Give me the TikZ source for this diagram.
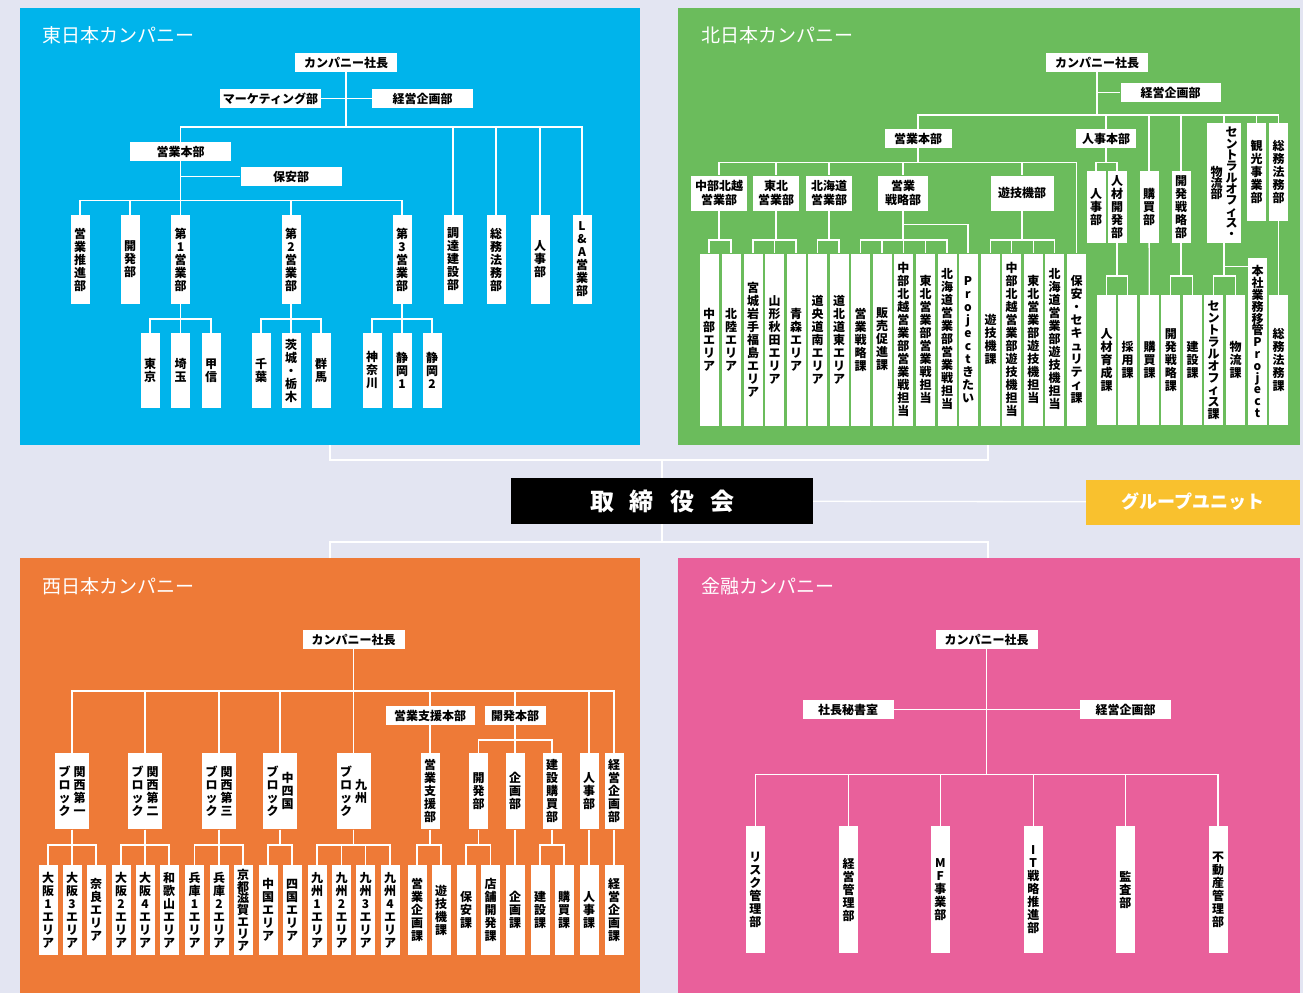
\documentclass[tikz,border=0pt]{standalone}
\usepackage{fontspec}
\usepackage{xcolor}
\usepackage{tikz}
\setmainfont{Noto Sans CJK JP}

\definecolor{bgcol}{HTML}{E3E5F2}
\definecolor{eastcol}{HTML}{00B4EB}
\definecolor{northcol}{HTML}{6BBC5C}
\definecolor{westcol}{HTML}{EE7A37}
\definecolor{fincol}{HTML}{E9609B}
\definecolor{unitcol}{HTML}{F9C12E}

% vertical text: one character per line
\makeatletter
\newcommand\tate[2][13pt]{\vbox{\baselineskip#1\lineskiplimit-20pt\lineskip0pt
    \@tfor\tatec:=#2\do{\hbox to 12pt{\hss\tatec\hss}}}}
\makeatother
\newcommand\tatetwo[3][13pt]{$\vcenter{\tate[#1]{#3}}\hskip3pt\vcenter{\tate[#1]{#2}}$}

\begin{document}
\begin{tikzpicture}[x=1pt, y=-1pt,
    link/.style={draw=white, line width=1.3pt},
    bar/.style={to path={(\tikztostart.south) |- (\tikztotarget.north |- 0,#1) -- (\tikztotarget.north)}},
    panel/.style={inner sep=0pt, outer sep=0pt},
    title/.style={anchor=west, inner sep=0pt, text=white, font=\fontsize{19}{19}\selectfont},
    yoko/.style={fill=white, inner sep=0pt, minimum height=19pt, align=center, font=\bfseries\fontsize{12}{14}\selectfont},
    tatebox/.style={fill=white, inner sep=0pt, minimum width=19pt, font=\bfseries\fontsize{12}{13}\selectfont}]
\fill[bgcol] (0,0) rectangle (1303,993);

% companies
\node[panel, fill=eastcol, minimum width=620pt, minimum height=437pt] (east) at (330,226.5) {};
\node[panel, fill=northcol, minimum width=622pt, minimum height=437pt] (north) at (989,226.5) {};
\node[panel, fill=westcol, minimum width=620pt, minimum height=435pt] (west) at (330,775.5) {};
\node[panel, fill=fincol, minimum width=622pt, minimum height=435pt] (fin) at (989,775.5) {};
\node[title] (etitle) at (42,35) {東日本カンパニー};
\node[title] (ntitle) at (701,35) {北日本カンパニー};
\node[title] (wtitle) at (42,586) {西日本カンパニー};
\node[title] (ftitle) at (701,586) {金融カンパニー};

% board
\node[fill=black, text=white, minimum width=302pt, minimum height=46pt, inner sep=0pt, font=\bfseries\fontsize{24}{24}\selectfont] (board) at (662,501) {取\hspace{16pt}締\hspace{16pt}役\hspace{16pt}会};
\node[fill=unitcol, text=white, minimum width=214pt, minimum height=45pt, inner sep=0pt, font=\bfseries\fontsize{18}{18}\selectfont] (unit) at (1193,502) {グループユニット};
\draw[link] (east.south -| 330,0) |- (board.north |- 0,460) -- (board.north);
\draw[link] (north.south -| 988,0) |- (board.north |- 0,460);
\draw[link] (west.north -| 330,0) |- (board.south |- 0,542) -- (board.south);
\draw[link] (fin.north -| 988,0) |- (board.south |- 0,542);
\draw[link] (board) -- (unit);

% east
\node[yoko, minimum width=102pt] (ep) at (346,62.5) {カンパニー社長};
\node[yoko, minimum width=101pt] (emk) at (270.5,98.5) {マーケティング部};
\node[yoko, minimum width=101pt] (ekk) at (422.5,98.5) {経営企画部};
\node[yoko, minimum width=101pt] (ehb) at (180.5,151.5) {営業本部};
\node[yoko, minimum width=101pt] (eho) at (291,176.5) {保安部};
\node[tatebox, minimum height=89pt] (e1) at (80,259.5) {\tate{営業推進部}};
\node[tatebox, minimum height=89pt] (e2) at (130,259.5) {\tate{開発部}};
\node[tatebox, minimum height=89pt] (e3) at (180.5,259.5) {\tate{第1営業部}};
\node[tatebox, minimum height=89pt] (e4) at (291,259.5) {\tate{第2営業部}};
\node[tatebox, minimum height=89pt] (e5) at (402,259.5) {\tate{第3営業部}};
\node[tatebox, minimum height=89pt] (e6) at (453,259.5) {\tate{調達建設部}};
\node[tatebox, minimum height=89pt] (e7) at (496,259.5) {\tate{総務法務部}};
\node[tatebox, minimum height=89pt] (e8) at (540,259.5) {\tate{人事部}};
\node[tatebox, minimum height=89pt] (e9) at (582,259.5) {\tate{L\&A営業部}};
\node[tatebox, minimum height=75pt] (e31) at (150,370.5) {\tate{東京}};
\node[tatebox, minimum height=75pt] (e32) at (180.5,370.5) {\tate{埼玉}};
\node[tatebox, minimum height=75pt] (e33) at (211,370.5) {\tate{甲信}};
\node[tatebox, minimum height=75pt] (e41) at (261,370.5) {\tate{千葉}};
\node[tatebox, minimum height=75pt] (e42) at (291,370.5) {\tate{茨城・栃木}};
\node[tatebox, minimum height=75pt] (e43) at (321,370.5) {\tate{群馬}};
\node[tatebox, minimum height=75pt] (e51) at (372,370.5) {\tate{神奈川}};
\node[tatebox, minimum height=75pt] (e52) at (402,370.5) {\tate{静岡1}};
\node[tatebox, minimum height=75pt] (e53) at (432,370.5) {\tate{静岡2}};
\draw[link] (emk) -- (ekk);
\draw[link] (ep) edge[bar=127] (ehb) edge[bar=127] (e6) edge[bar=127] (e7) edge[bar=127] (e8) edge[bar=127] (e9);
\draw[link] (ehb.south) |- (eho);
\draw[link] (ehb) edge[bar=200.7] (e1) edge[bar=200.7] (e2) edge[bar=200.7] (e3) edge[bar=200.7] (e4) edge[bar=200.7] (e5);
\draw[link] (e3) edge[bar=319] (e31) edge[bar=319] (e32) edge[bar=319] (e33);
\draw[link] (e4) edge[bar=319] (e41) edge[bar=319] (e42) edge[bar=319] (e43);
\draw[link] (e5) edge[bar=319] (e51) edge[bar=319] (e52) edge[bar=319] (e53);

% north
\node[yoko, minimum width=102pt] (np) at (1097,62.5) {カンパニー社長};
\node[yoko, minimum width=100pt] (nkk) at (1170.5,92.5) {経営企画部};
\node[yoko, minimum width=67pt] (nhb) at (918,138.5) {営業本部};
\node[yoko, minimum width=60pt] (njb) at (1106,138.5) {人事本部};
\node[tatebox, minimum height=72pt] (nkb) at (1149,207) {\tate{購買部}};
\node[tatebox, minimum height=72pt] (nks) at (1181,207) {\tate{開発戦略部}};
\node[tatebox, minimum width=34pt, minimum height=120pt] (nco) at (1224,183) {\tatetwo[11.3pt]{セントラルオフィス・}{物流部}};
\node[tatebox, minimum height=98pt] (nkj) at (1256.5,172) {\tate{観光事業部}};
\node[tatebox, minimum height=98pt] (nsh) at (1278.5,172) {\tate{総務法務部}};
\node[yoko, minimum width=56pt, minimum height=35pt] (nch) at (719,193) {中部北越\\営業部};
\node[yoko, minimum width=46pt, minimum height=35pt] (nth) at (776,193) {東北\\営業部};
\node[yoko, minimum width=46pt, minimum height=35pt] (nhk) at (829,193) {北海道\\営業部};
\node[yoko, minimum width=50pt, minimum height=35pt] (nes) at (903,193) {営業\\戦略部};
\node[yoko, minimum width=63pt, minimum height=35pt] (nyg) at (1022,193) {遊技機部};
\node[tatebox, minimum height=72pt] (njj) at (1096,207) {\tate{人事部}};
\node[tatebox, minimum height=72pt] (njk) at (1117,207) {\tate{人材開発部}};
\node[tatebox, minimum height=172pt] (n1) at (709,339.5) {\tate{中部エリア}};
\node[tatebox, minimum height=172pt] (n2) at (731,339.5) {\tate{北陸エリア}};
\node[tatebox, minimum height=172pt] (n3) at (753,339.5) {\tate{宮城岩手福島エリア}};
\node[tatebox, minimum height=172pt] (n4) at (774.5,339.5) {\tate{山形秋田エリア}};
\node[tatebox, minimum height=172pt] (n5) at (796,339.5) {\tate{青森エリア}};
\node[tatebox, minimum height=172pt] (n6) at (817.5,339.5) {\tate{道央道南エリア}};
\node[tatebox, minimum height=172pt] (n7) at (839,339.5) {\tate{道北道東エリア}};
\node[tatebox, minimum height=172pt] (n8) at (860.5,339.5) {\tate{営業戦略課}};
\node[tatebox, minimum height=172pt] (n9) at (882,339.5) {\tate{販売促進課}};
\node[tatebox, minimum height=172pt] (n10) at (903.3,339.5) {\tate{中部北越営業部営業戦担当}};
\node[tatebox, minimum height=172pt] (n11) at (925.5,339.5) {\tate{東北営業部営業戦担当}};
\node[tatebox, minimum height=172pt] (n12) at (947,339.5) {\tate{北海道営業部営業戦担当}};
\node[tatebox, minimum height=172pt] (n13) at (968,339.5) {\tate{Projectきたい}};
\node[tatebox, minimum height=172pt] (n14) at (990.5,339.5) {\tate{遊技機課}};
\node[tatebox, minimum height=172pt] (n15) at (1011.7,339.5) {\tate{中部北越営業部遊技機担当}};
\node[tatebox, minimum height=172pt] (n16) at (1033.3,339.5) {\tate{東北営業部遊技機担当}};
\node[tatebox, minimum height=172pt] (n17) at (1054.7,339.5) {\tate{北海道営業部遊技機担当}};
\node[tatebox, minimum height=172pt] (n18) at (1076.7,339.5) {\tate{保安・セキュリティ課}};
\node[tatebox, minimum height=130.5pt] (n19) at (1106.7,360.2) {\tate{人材育成課}};
\node[tatebox, minimum height=130.5pt] (n20) at (1127.5,360.2) {\tate{採用課}};
\node[tatebox, minimum height=130.5pt] (n21) at (1149.5,360.2) {\tate{購買課}};
\node[tatebox, minimum height=130.5pt] (n22) at (1170.8,360.2) {\tate{開発戦略課}};
\node[tatebox, minimum height=130.5pt] (n23) at (1192.5,360.2) {\tate{建設課}};
\node[tatebox, minimum height=130.5pt] (n24) at (1213.5,360.2) {\tate[12pt]{セントラルオフィス課}};
\node[tatebox, minimum height=130.5pt] (n25) at (1235.5,360.2) {\tate{物流課}};
\node[tatebox, minimum height=166.7pt] (n26) at (1257.5,341.7) {\tate[11.8pt]{本社業務移管Project}};
\node[tatebox, minimum height=130.5pt] (n27) at (1278.5,360.2) {\tate{総務法務課}};
\draw[link] (np.south) |- (nkk);
\draw[link] (np) edge[bar=115] (nhb) edge[bar=115] (njb) edge[bar=115] (nkb) edge[bar=115] (nks) edge[bar=115] (nco) edge[bar=115] (nkj) edge[bar=115] (nsh);
\draw[link] (nhb) edge[bar=162.7] (nch) edge[bar=162.7] (nth) edge[bar=162.7] (nhk) edge[bar=162.7] (nes) edge[bar=162.7] (nyg) edge[bar=162.7] (n18);
\draw[link] (njb) edge[bar=162.7] (njj) edge[bar=162.7] (njk);
\draw[link] (nch) edge[bar=240] (n1) edge[bar=240] (n2);
\draw[link] (nth) edge[bar=240] (n3) edge[bar=240] (n4) edge[bar=240] (n5);
\draw[link] (nhk) edge[bar=240] (n6) edge[bar=240] (n7);
\draw[link] (nes) edge[bar=240] (n8) edge[bar=240] (n9) edge[bar=240] (n10) edge[bar=240] (n11) edge[bar=240] (n12) edge[bar=224.7] (n13);
\draw[link] (nyg) edge[bar=240] (n14) edge[bar=240] (n15) edge[bar=240] (n16) edge[bar=240] (n17);
\draw[link] (njk) edge[bar=276] (n19) edge[bar=276] (n20);
\draw[link] (nkb) -- (n21);
\draw[link] (nks) edge[bar=276] (n22) edge[bar=276] (n23);
\draw[link] (nco) edge[bar=276] (n24) edge[bar=276] (n25);
\draw[link] (nco.south) |- (n26.west |- 0,266.7);
\draw[link] (nsh) -- (n27);

% west
\node[yoko, minimum width=102pt] (wp) at (353.5,639.5) {カンパニー社長};
\node[yoko, minimum width=89pt] (wsh) at (430,715.5) {営業支援本部};
\node[yoko, minimum width=61pt] (wkh) at (515,715.5) {開発本部};
\node[tatebox, minimum width=34pt, minimum height=76pt] (wb1) at (72,791.3) {\tatetwo{関西第一}{ブロック}};
\node[tatebox, minimum width=34pt, minimum height=76pt] (wb2) at (145,791.3) {\tatetwo{関西第二}{ブロック}};
\node[tatebox, minimum width=34pt, minimum height=76pt] (wb3) at (219,791.3) {\tatetwo{関西第三}{ブロック}};
\node[tatebox, minimum width=34pt, minimum height=76pt] (wb4) at (280,791.3) {\tatetwo{中四国}{ブロック}};
\node[tatebox, minimum width=34pt, minimum height=76pt] (wb5) at (353.5,791.3) {\tatetwo{九州}{ブロック}};
\node[tatebox, minimum height=76pt] (wss) at (430,791.3) {\tate{営業支援部}};
\node[tatebox, minimum height=76pt] (wkb) at (478.5,791.3) {\tate{開発部}};
\node[tatebox, minimum height=76pt] (wkg) at (515,791.3) {\tate{企画部}};
\node[tatebox, minimum height=76pt] (wkt) at (552,791.3) {\tate{建設購買部}};
\node[tatebox, minimum height=76pt] (wjj) at (589,791.3) {\tate{人事部}};
\node[tatebox, minimum height=76pt] (wkk) at (614,791.3) {\tate{経営企画部}};
\node[tatebox, minimum height=90pt] (w11) at (48,910) {\tate{大阪1エリア}};
\node[tatebox, minimum height=90pt] (w12) at (72,910) {\tate{大阪3エリア}};
\node[tatebox, minimum height=90pt] (w13) at (96,910) {\tate{奈良エリア}};
\node[tatebox, minimum height=90pt] (w21) at (121,910) {\tate{大阪2エリア}};
\node[tatebox, minimum height=90pt] (w22) at (145,910) {\tate{大阪4エリア}};
\node[tatebox, minimum height=90pt] (w23) at (169,910) {\tate{和歌山エリア}};
\node[tatebox, minimum height=90pt] (w31) at (194.5,910) {\tate{兵庫1エリア}};
\node[tatebox, minimum height=90pt] (w32) at (219,910) {\tate{兵庫2エリア}};
\node[tatebox, minimum height=90pt] (w33) at (243,910) {\tate[11.8pt]{京都滋賀エリア}};
\node[tatebox, minimum height=90pt] (w41) at (268,910) {\tate{中国エリア}};
\node[tatebox, minimum height=90pt] (w42) at (292,910) {\tate{四国エリア}};
\node[tatebox, minimum height=90pt] (w51) at (317,910) {\tate{九州1エリア}};
\node[tatebox, minimum height=90pt] (w52) at (341.5,910) {\tate{九州2エリア}};
\node[tatebox, minimum height=90pt] (w53) at (365.5,910) {\tate{九州3エリア}};
\node[tatebox, minimum height=90pt] (w54) at (390,910) {\tate{九州4エリア}};
\node[tatebox, minimum height=90pt] (ws1) at (417,910) {\tate{営業企画課}};
\node[tatebox, minimum height=90pt] (ws2) at (441,910) {\tate{遊技機課}};
\node[tatebox, minimum height=90pt] (wk1) at (466,910) {\tate{保安課}};
\node[tatebox, minimum height=90pt] (wk2) at (490.5,910) {\tate{店舗開発課}};
\node[tatebox, minimum height=90pt] (wg1) at (515,910) {\tate{企画課}};
\node[tatebox, minimum height=90pt] (wt1) at (540,910) {\tate{建設課}};
\node[tatebox, minimum height=90pt] (wt2) at (564,910) {\tate{購買課}};
\node[tatebox, minimum height=90pt] (wj1) at (589,910) {\tate{人事課}};
\node[tatebox, minimum height=90pt] (wc1) at (614,910) {\tate{経営企画課}};
\draw[link] (wp) edge[bar=691] (wb1) edge[bar=691] (wb2) edge[bar=691] (wb3) edge[bar=691] (wb4) edge[bar=691] (wb5) edge[bar=691] (wsh) edge[bar=691] (wkh) edge[bar=691] (wjj) edge[bar=691] (wkk);
\draw[link] (wsh) -- (wss);
\draw[link] (wkh) edge[bar=740] (wkb) edge[bar=740] (wkg) edge[bar=740] (wkt);
\draw[link] (wb1) edge[bar=845] (w11) edge[bar=845] (w12) edge[bar=845] (w13);
\draw[link] (wb2) edge[bar=845] (w21) edge[bar=845] (w22) edge[bar=845] (w23);
\draw[link] (wb3) edge[bar=845] (w31) edge[bar=845] (w32) edge[bar=845] (w33);
\draw[link] (wb4) edge[bar=845] (w41) edge[bar=845] (w42);
\draw[link] (wb5) edge[bar=845] (w51) edge[bar=845] (w52) edge[bar=845] (w53) edge[bar=845] (w54);
\draw[link] (wss) edge[bar=845] (ws1) edge[bar=845] (ws2);
\draw[link] (wkb) edge[bar=845] (wk1) edge[bar=845] (wk2);
\draw[link] (wkg) -- (wg1);
\draw[link] (wkt) edge[bar=845] (wt1) edge[bar=845] (wt2);
\draw[link] (wjj) -- (wj1);
\draw[link] (wkk) -- (wc1);

% finance
\node[yoko, minimum width=102pt] (fp) at (986.7,639.5) {カンパニー社長};
\node[yoko, minimum width=91pt] (fsh) at (848,709.5) {社長秘書室};
\node[yoko, minimum width=91pt] (fkk) at (1125.5,709.5) {経営企画部};
\node[tatebox, minimum height=127.3pt] (f1) at (755.3,889.7) {\tate{リスク管理部}};
\node[tatebox, minimum height=127.3pt] (f2) at (848.5,889.7) {\tate{経営管理部}};
\node[tatebox, minimum height=127.3pt] (f3) at (940.3,889.7) {\tate{MF事業部}};
\node[tatebox, minimum height=127.3pt] (f4) at (1033.3,889.7) {\tate{IT戦略推進部}};
\node[tatebox, minimum height=127.3pt] (f5) at (1125.3,889.7) {\tate{監査部}};
\node[tatebox, minimum height=127.3pt] (f6) at (1218,889.7) {\tate{不動産管理部}};
\draw[link] (fsh) -- (fkk);
\draw[link] (fp) edge[bar=774.3] (f1) edge[bar=774.3] (f2) edge[bar=774.3] (f3) edge[bar=774.3] (f4) edge[bar=774.3] (f5) edge[bar=774.3] (f6);
\end{tikzpicture}
\end{document}
